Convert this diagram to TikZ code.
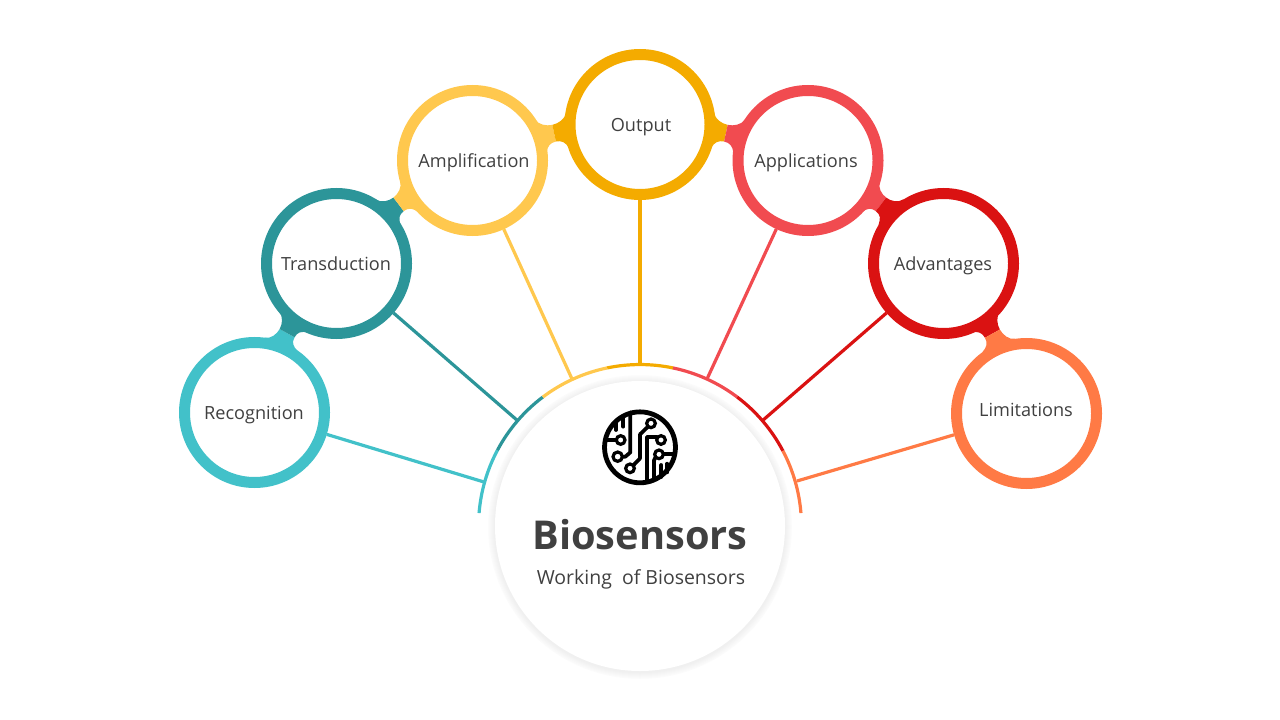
\documentclass[tikz,border=0pt]{standalone}
\usepackage{fontspec}
\setmainfont{Open Sans}
\usetikzlibrary{calc}
\definecolor{cRec}{HTML}{42C1C9}
\definecolor{cTra}{HTML}{2C9599}
\definecolor{cAmp}{HTML}{FFC84E}
\definecolor{cOut}{HTML}{F4AB00}
\definecolor{cApp}{HTML}{F14B50}
\definecolor{cAdv}{HTML}{DA1212}
\definecolor{cLim}{HTML}{FF7A45}
\definecolor{ink}{HTML}{404040}
\tikzset{
  ring/.style={circle,draw=#1,line width=8.25pt,fill=white,minimum size=105pt,inner sep=0pt},
  lab/.style={text=ink,font=\fontsize{13.6pt}{16pt}\selectfont,inner sep=0pt,text height=10pt,text depth=3pt},
  spoke/.style={draw=#1,line width=2.4pt},
  arcseg/.style={draw=#1,line width=2.4pt},
  trace/.style={line width=2.8pt,line join=round,line cap=round,draw=black},
  pad/.style={line width=2.4pt,draw=black,fill=white}
}
% neck between two rings: ax ay bx by colA colB
\newcommand\neck[6]{%
  \pgfmathsetmacro\dd{veclen(#3-#1,#4-#2)}%
  \pgfmathsetmacro\ux{(#3-#1)/\dd}%
  \pgfmathsetmacro\uy{(#4-#2)/\dd}%
  \pgfmathsetmacro\mm{\dd/2}%
  \pgfmathsetmacro\qa{9+17.5}%
  \pgfmathsetmacro\qb{9-17.5}%
  \pgfmathsetmacro\pa{sqrt(75*75-\qa*\qa)}%
  \pgfmathsetmacro\pb{sqrt(75*75-\qb*\qb)}%
  \begin{scope}[shift={(#1,#2)},
     x={(\ux*0.75pt,-\uy*0.75pt)},y={(\uy*0.75pt,\ux*0.75pt)}]
    \fill[#5] (\pa,\qa) .. controls ({\pa+2},\qa-6) and (\mm-6,17.5) .. (\mm,17.5)
       -- (\mm,0.5) .. controls (\mm-6,0.5) and ({\pb+2},\qb+6) .. (\pb,\qb) -- (0,0) -- cycle;
    \fill[#6] ({\dd-\pa},\qa) .. controls ({\dd-\pa-2},\qa-6) and (\mm+6,17.5) .. (\mm,17.5)
       -- (\mm,0.5) .. controls (\mm+6,0.5) and ({\dd-\pb-2},\qb+6) .. ({\dd-\pb},\qb) -- (\dd,0) -- cycle;
  \end{scope}%
}
\begin{document}
\begin{tikzpicture}[x=0.75pt,y=-0.75pt]
\useasboundingbox (0,0) rectangle (1280,720);
% necks
\neck{254}{412}{336}{263}{cRec}{cTra}
\neck{336}{263}{472}{160}{cTra}{cAmp}
\neck{472}{160}{640}{124}{cAmp}{cOut}
\neck{640}{124}{808}{160}{cOut}{cApp}
\neck{808}{160}{943}{263}{cApp}{cAdv}
\neck{943}{263}{1026}{413}{cAdv}{cLim}
% rings
\node[ring=cRec] (rec) at (254.5,412.5) {};
\node[ring=cTra] (tra) at (336.5,263.5) {};
\node[ring=cAmp] (amp) at (472.5,160.5) {};
\node[ring=cOut] (out) at (640,124.5) {};
\node[ring=cApp] (app) at (808,160.5) {};
\node[ring=cAdv] (adv) at (943.5,263.5) {};
\node[ring=cLim] (lim) at (1026.5,413.5) {};
% labels
\node[lab] (recT) at (254,415) {Recognition};
\node[lab] (traT) at (336,266) {Transduction};
\node[lab] (ampT) at (474,163) {Amplification};
\node[lab] (outT) at (641,127) {Output};
\node[lab] (appT) at (806,163) {Applications};
\node[lab] (advT) at (943,266) {Advantages};
\node[lab] (limT) at (1026,412) {Limitations};
% hub shadow and hub
\foreach \r/\o in {152/1,151/1.8,150/2.6,149/3.4,148/4.2,147/5,146/6}
  \fill[black!\o] (640,527) circle[radius=\r*0.75pt];
\node[circle,fill=white,minimum size=217.5pt,inner sep=0pt] (hub) at (640,526) {};
% arc segments
\coordinate (hc) at (640,526);
\foreach \s/\e/\c in {175.4/152/cRec,152/127/cTra,127/101.7/cAmp,101.7/78.2/cOut,78.2/53/cApp,53/27.7/cAdv,27.7/4.6/cLim}
  \draw[arcseg=\c] ([shift={(\s:121.1pt)}]hc) arc[start angle=\s,end angle=\e,radius=121.1pt];
% arc anchor points
\coordinate (pRec) at (484,482);
\coordinate (pTra) at (518,421);
\coordinate (pAmp) at (572,379);
\coordinate (pOut) at (640,365);
\coordinate (pApp) at (707,379);
\coordinate (pAdv) at (762,421);
\coordinate (pLim) at (797,481);
\draw[spoke=cRec] (rec) -- (pRec);
\draw[spoke=cTra] (tra) -- (pTra);
\draw[spoke=cAmp] (amp) -- (pAmp);
\draw[spoke=cOut,line width=3pt] (out) -- (pOut);
\draw[spoke=cApp] (app) -- (pApp);
\draw[spoke=cAdv] (adv) -- (pAdv);
\draw[spoke=cLim] (lim) -- (pLim);
% icon
\begin{scope}[shift={(470,355)},x=0.25pt,y=-0.25pt]
  \draw[line width=3.6pt] (510,277) circle[radius=26.6pt];
  \draw[trace] (534,215) -- (510,238) -- (510,310) -- (489,332);
  \draw[trace] (438,255) -- (408,255);
  \draw[trace] (481,172) -- (481,292) -- (466,305) -- (455,305);
  \draw[trace] (460,188) -- (460,215);
  \draw[trace] (438,200) -- (438,225);
  \draw[trace] (560,246) -- (531,246) -- (531,380);
  \draw[trace] (580,296) -- (612,296);
  \draw[trace] (557,306) -- (552,316) -- (552,372);
  \draw[trace] (574,330) -- (574,366);
  \draw[trace] (592,326) -- (592,352);
  \draw[pad] (543,205) circle[radius=13];
  \draw[pad] (452,255) circle[radius=13];
  \draw[pad] (443,305) circle[radius=14];
  \draw[pad] (480,340) circle[radius=13];
  \draw[pad] (573,255) circle[radius=13];
  \draw[pad] (567,298) circle[radius=13];
\end{scope}
% hub text
\node[text=ink,font=\fontsize{29.8pt}{36pt}\bfseries\selectfont,inner sep=0pt] (title) at (640,535) {Biosensors};
\node[text=ink,font=\fontsize{14.6pt}{18pt}\selectfont,inner sep=0pt] (sub) at (641,579) {Working~~of Biosensors};
\end{tikzpicture}
\end{document}
